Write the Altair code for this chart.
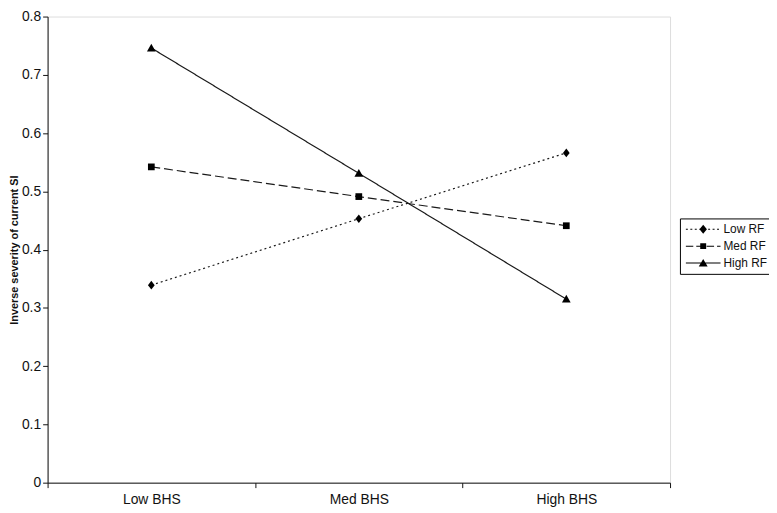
import altair as alt
import pandas as pd

# ---------------- data ----------------
categories = ["Low BHS", "Med BHS", "High BHS"]
series_names = ["Low RF", "Med RF", "High RF"]
low_rf = [0.339, 0.453, 0.566]
med_rf = [0.542, 0.491, 0.441]
high_rf = [0.746, 0.531, 0.315]
y_ticks = [0, 0.1, 0.2, 0.3, 0.4, 0.5, 0.6, 0.7, 0.8]

rows = []
for name, vals in zip(series_names, [low_rf, med_rf, high_rf]):
    for cat, v in zip(categories, vals):
        rows.append({"bhs": cat, "series": name, "value": v})
df = pd.DataFrame(rows)

FONT = "Liberation Sans"

# ---------------- marker shapes (unit square paths) ----------------
diamond = "M0,-1.1L0.85,0L0,1.1L-0.85,0Z"
square = "M-0.85,-0.85L0.85,-0.85L0.85,0.85L-0.85,0.85Z"
triangle = "M0,-1.1L1.1,0.85L-1.1,0.85Z"


def rect(x0, x1, h=0.1):
    return f"M{x0:.2f},{-h}L{x1:.2f},{-h}L{x1:.2f},{h}L{x0:.2f},{h}Z"


def dashed(start, end, dash, gap):
    out = ""
    x = start
    while x < end:
        out += rect(x, min(x + dash, end))
        x += dash + gap
    return out


mc = 2.5  # marker centre in legend path units
leg_low = dashed(-1, 6, 0.4, 0.5) + f"M{mc},-0.9L{mc+0.75},0L{mc},0.9L{mc-0.75},0Z"
leg_med = dashed(-1, 6, 1.5, 0.6) + f"M{mc-0.6},-0.6L{mc+0.6},-0.6L{mc+0.6},0.6L{mc-0.6},0.6Z"
leg_high = rect(-1, 6) + f"M{mc},-0.8L{mc+0.9},0.7L{mc-0.9},0.7Z"

PAD_LEFT = 40
PLOT_W = 677 - 8 - PAD_LEFT
PLOT_H = 471

base = alt.Chart(df).encode(
    x=alt.X(
        "bhs:N",
        sort=categories,
        scale=alt.Scale(type="band", paddingInner=0, paddingOuter=0),
        axis=alt.Axis(
            title=None,
            labelAngle=0,
            tickBand="extent",
            labelFontSize=14,
            labelFont=FONT,
            labelColor="#111",
            tickSize=5,
            labelPadding=5,
            domainColor="#111",
            tickColor="#111",
        ),
    ),
    y=alt.Y(
        "value:Q",
        scale=alt.Scale(domain=[0, 0.8], nice=False, zero=True),
        axis=alt.Axis(
            values=y_ticks,
            format=".1~f",
            title="Inverse severity of current SI",
            titleFont=FONT,
            titleFontSize=11,
            titleFontWeight="bold",
            titleColor="#111",
            titlePadding=2,
            labelFontSize=14,
            labelFont=FONT,
            labelColor="#111",
            labelPadding=2,
            tickSize=5,
            grid=False,
            domainColor="#111",
            tickColor="#111",
        ),
    ),
)

lines = base.mark_line(color="#1a1a1a", strokeWidth=1.2).encode(
    strokeDash=alt.StrokeDash(
        "series:N",
        scale=alt.Scale(domain=series_names, range=[[2, 3], [9, 4], [1, 0]]),
        legend=None,
    )
)

points = base.mark_point(filled=True, color="black", size=64, opacity=1).encode(
    shape=alt.Shape(
        "series:N",
        scale=alt.Scale(domain=series_names, range=[diamond, square, triangle]),
        legend=None,
    )
)

legend_layer = (
    base.transform_filter("datum.value > 10")
    .mark_point(filled=True, color="black", size=100, opacity=1)
    .encode(
        shape=alt.Shape(
            "series:N",
            scale=alt.Scale(domain=series_names, range=[leg_low, leg_med, leg_high]),
            legend=alt.Legend(
                title=None,
                orient="none",
                legendX=687 - 8 - PAD_LEFT,
                legendY=204,
                symbolSize=100,
                symbolFillColor="black",
                symbolStrokeWidth=0,
                symbolOpacity=1,
                labelFontSize=12,
                labelFont=FONT,
                labelColor="#111",
                labelOffset=27,
                padding=5,
                rowPadding=5,
                strokeColor="black",
                fillColor="white",
            ),
        )
    )
)

chart = (
    alt.layer(lines, points, legend_layer)
    .resolve_scale(shape="independent")
    .properties(
        width=PLOT_W,
        height=PLOT_H,
        autosize=alt.AutoSizeParams(type="none"),
        padding={"left": PAD_LEFT, "top": 6, "right": 769 - PAD_LEFT - PLOT_W, "bottom": 28},
    )
    .configure_view(stroke="#333", strokeWidth=1)
    .configure(background="white")
)

chart.save("out.html", embed_options={"renderer": "svg", "actions": False})
